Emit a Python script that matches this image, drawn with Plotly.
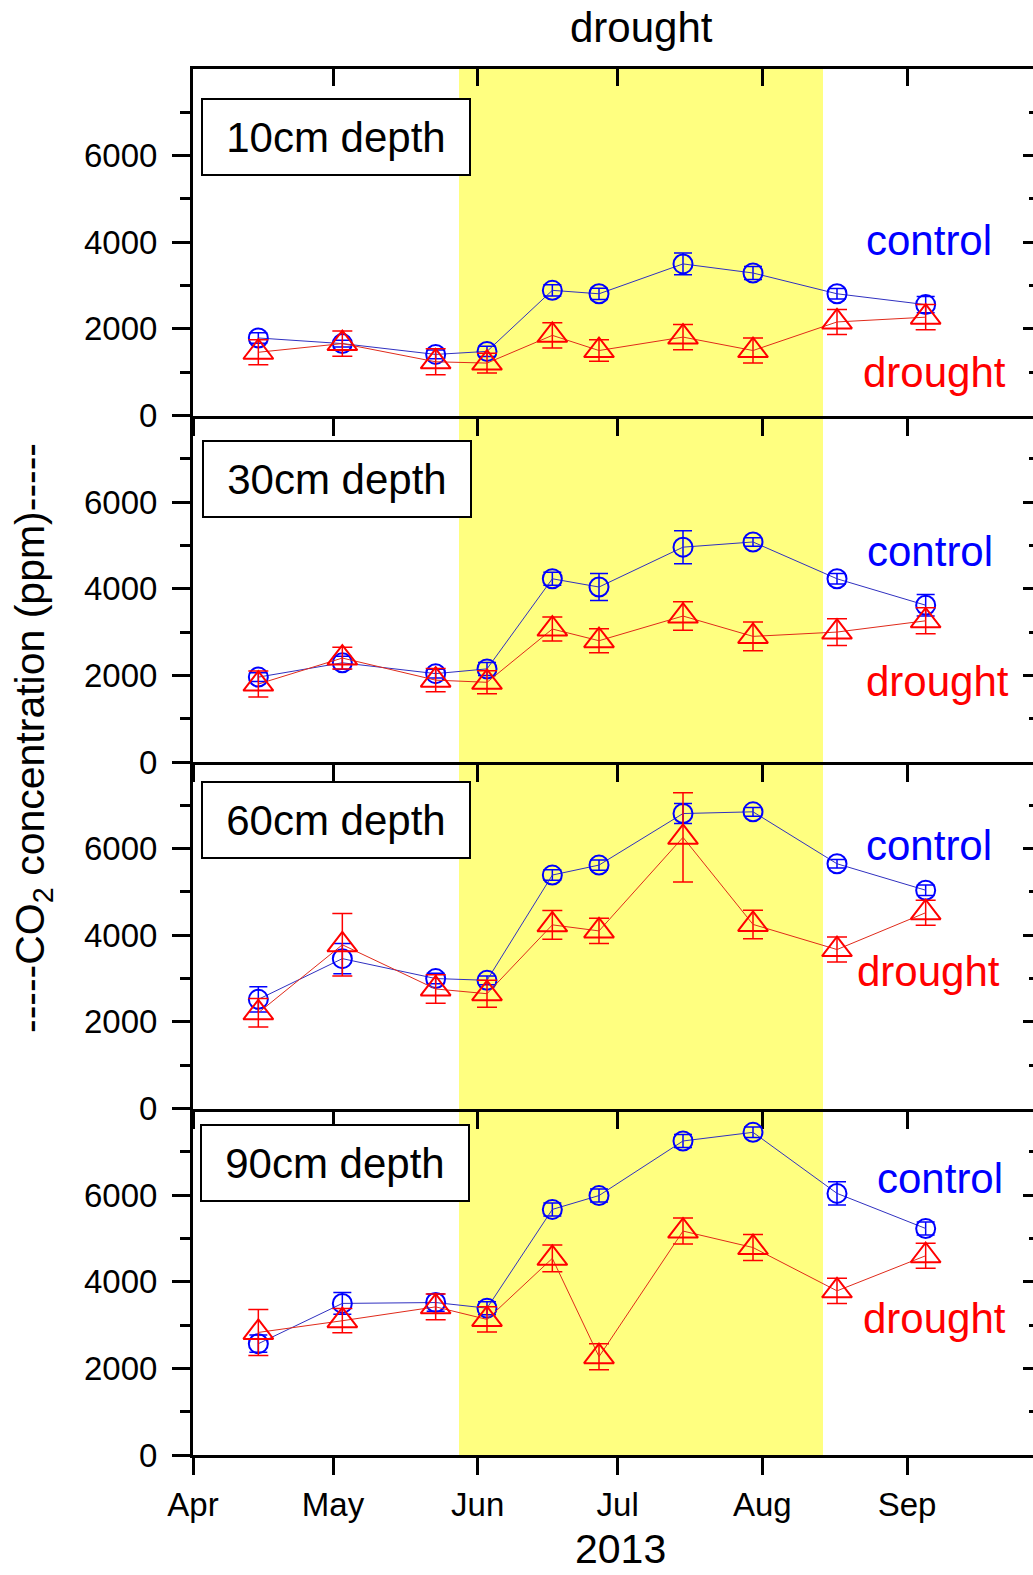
import plotly.graph_objects as go
import pandas as pd

# ---------------- data ----------------
dates = ["2013-04-15", "2013-05-03", "2013-05-23", "2013-06-03", "2013-06-17",
         "2013-06-27", "2013-07-15", "2013-07-30", "2013-08-17", "2013-09-05"]
depth_labels = ["10cm depth", "30cm depth", "60cm depth", "90cm depth"]

control_10 = [1790, 1660, 1410, 1480, 2890, 2810, 3500, 3290, 2810, 2560]
control_10_err = [120, 80, 100, 120, 130, 130, 250, 150, 120, 190]
drought_10 = [1460, 1660, 1240, 1210, 1850, 1500, 1810, 1500, 2160, 2270]
drought_10_err = [290, 290, 300, 230, 290, 250, 290, 290, 290, 290]

control_30 = [1960, 2290, 2040, 2150, 4230, 4040, 4960, 5080, 4230, 3620]
control_30_err = [100, 150, 100, 150, 150, 310, 380, 100, 120, 250]
drought_30 = [1800, 2400, 1890, 1840, 3070, 2800, 3370, 2900, 3000, 3260]
drought_30_err = [300, 250, 270, 265, 275, 275, 330, 330, 310, 300]

control_60 = [2520, 3460, 3000, 2960, 5390, 5620, 6810, 6850, 5650, 5040]
control_60_err = [290, 350, 120, 100, 120, 120, 230, 100, 100, 120]
drought_60 = [2210, 3780, 2760, 2650, 4240, 4100, 6260, 4250, 3670, 4520]
drought_60_err = [330, 720, 330, 310, 330, 290, 1030, 330, 290, 290]

control_90 = [2570, 3500, 3520, 3390, 5670, 5990, 7250, 7450, 6040, 5230]
control_90_err = [200, 250, 200, 150, 150, 150, 150, 120, 270, 150]
drought_90 = [2830, 3100, 3420, 3130, 4540, 2270, 5170, 4790, 3790, 4600]
drought_90_err = [530, 280, 300, 290, 310, 300, 300, 300, 290, 290]

drought_period = ["2013-05-28", "2013-08-14"]
x_range = ["2013-04-01", "2013-09-28"]
y_ticks = [0, 2000, 4000, 6000]
y_minor_ticks = [1000, 3000, 5000, 7000]
y_range = [0, 8000]

panels = [
    (control_10, control_10_err, drought_10, drought_10_err),
    (control_30, control_30_err, drought_30, drought_30_err),
    (control_60, control_60_err, drought_60, drought_60_err),
    (control_90, control_90_err, drought_90, drought_90_err),
]

# label placement (fraction of each panel)
control_pos = [(0.876, 0.505), (0.877, 0.608), (0.876, 0.760), (0.889, 0.797)]
drought_pos = [(0.883, 0.124), (0.886, 0.233), (0.876, 0.395), (0.883, 0.394)]
box_pos = [(0.170, 0.804), (0.172, 0.818), (0.170, 0.832), (0.169, 0.842)]

FONT = "Arial, 'Liberation Sans', sans-serif"
BLUE = "#0000FF"
RED = "#FF0000"

fig = go.Figure()

n = len(panels)
for i, (c, ce, d, de) in enumerate(panels):
    k = i + 1
    xa = "x" if k == 1 else f"x{k}"
    ya = "y" if k == 1 else f"y{k}"
    fig.add_trace(go.Scatter(
        x=dates, y=c, xaxis=xa, yaxis=ya, mode="lines+markers",
        line=dict(color="#3030C0", width=1),
        marker=dict(symbol="circle-open", size=19, color=BLUE,
                    line=dict(width=2, color=BLUE)),
        error_y=dict(type="data", array=ce, color=BLUE, thickness=1.5, width=9),
        showlegend=False, name="control"))
    fig.add_trace(go.Scatter(
        x=dates, y=d, xaxis=xa, yaxis=ya, mode="lines+markers",
        line=dict(color="#E02A1A", width=1),
        marker=dict(symbol="triangle-up-open", size=26, color=RED,
                    line=dict(width=2, color=RED)),
        error_y=dict(type="data", array=de, color=RED, thickness=1.5, width=10),
        showlegend=False, name="drought"))

# empty helper traces for overlay axes (top ticks of panel 1, right ticks)
fig.add_trace(go.Scatter(x=[], y=[], xaxis="x5", yaxis="y", showlegend=False))
for k in range(1, n + 1):
    xa = "x" if k == 1 else f"x{k}"
    fig.add_trace(go.Scatter(x=[], y=[], xaxis=xa, yaxis=f"y{k + 4}", showlegend=False))

layout = dict(
    width=1033, height=1575,
    margin=dict(l=193, r=0, t=69, b=120, pad=0),
    paper_bgcolor="white", plot_bgcolor="rgba(0,0,0,0)",
    font=dict(family=FONT, color="black"),
    showlegend=False,
)

h = 1.0 / n
for i in range(n):
    k = i + 1
    top = 1 - i * h
    bottom = top - h
    xname = "xaxis" if k == 1 else f"xaxis{k}"
    yname = "yaxis" if k == 1 else f"yaxis{k}"
    ya = "y" if k == 1 else f"y{k}"
    xa = "x" if k == 1 else f"x{k}"
    layout[xname] = dict(
        type="date", range=x_range, domain=[0, 1], anchor=ya,
        matches=None if k == 1 else "x",
        showline=True, linewidth=3, linecolor="black", mirror=(k == 1),
        ticks="outside", ticklen=17, tickwidth=3, tickcolor="black",
        tick0="2013-04-01", dtick="M1", tickformat="%b",
        showticklabels=(k == n), tickfont=dict(size=33, family=FONT),
        ticklabelstandoff=1,
        showgrid=False, zeroline=False,
    )
    layout[yname] = dict(
        range=y_range, domain=[max(bottom, 0), min(top, 1)], anchor=xa,
        showline=True, linewidth=3, linecolor="black", mirror=False,
        ticks="outside", ticklen=18, tickwidth=3, tickcolor="black",
        tickmode="array", tickvals=y_ticks, tickfont=dict(size=33, family=FONT),
        ticklabelstandoff=8,
        minor=dict(ticks="outside", ticklen=10, tickwidth=3, tickcolor="black",
                   tickmode="array", tickvals=y_minor_ticks),
        showgrid=False, zeroline=False,
    )
    # right-side inner ticks (frame edge lies beyond the picture)
    layout[f"yaxis{k + 4}"] = dict(
        range=y_range, overlaying=ya, side="right", anchor=xa,
        showline=False, ticks="inside", ticklen=10, tickwidth=3, tickcolor="black",
        tickmode="array", tickvals=y_ticks, showticklabels=False,
        minor=dict(ticks="inside", ticklen=4, tickwidth=3, tickcolor="black",
                   tickmode="array", tickvals=y_minor_ticks),
        showgrid=False, zeroline=False,
    )

# top ticks of the uppermost panel, pointing inward
layout["xaxis5"] = dict(
    type="date", range=x_range, overlaying="x", side="top", anchor="y",
    showline=False, ticks="inside", ticklen=17, tickwidth=3, tickcolor="black",
    tick0="2013-04-01", dtick="M1", showticklabels=False,
    showgrid=False, zeroline=False,
)

fig.update_layout(**layout)

# drought period band
fig.add_shape(type="rect", xref="x", yref="paper",
              x0=drought_period[0], x1=drought_period[1], y0=0, y1=1,
              fillcolor="#FFFF80", line=dict(width=0), layer="below")

band_mid = (pd.Timestamp(drought_period[0]) +
            (pd.Timestamp(drought_period[1]) - pd.Timestamp(drought_period[0])) / 2)

annotations = [
    dict(text="drought", x=band_mid.strftime("%Y-%m-%d"), xref="x",
         y=1.0296, yref="paper", showarrow=False,
         font=dict(size=42, family=FONT, color="black"),
         xanchor="center", yanchor="middle"),
    dict(text="2013", x=0.5095, xref="paper", y=-0.0675, yref="paper",
         showarrow=False, font=dict(size=41, family=FONT, color="black"),
         xanchor="center", yanchor="middle"),
    dict(text="-----CO<sub>2</sub> concentration (ppm)-----",
         x=-0.1905, xref="paper", y=0.5173, yref="paper", textangle=-90,
         showarrow=False, font=dict(size=41, family=FONT, color="black"),
         xanchor="center", yanchor="middle"),
]

for i in range(n):
    k = i + 1
    xd = "x domain" if k == 1 else f"x{k} domain"
    yd = "y domain" if k == 1 else f"y{k} domain"
    annotations.append(dict(
        text=depth_labels[i], x=box_pos[i][0], y=box_pos[i][1], xref=xd, yref=yd,
        showarrow=False, font=dict(size=42, family=FONT, color="black"),
        bgcolor="white", bordercolor="black", borderwidth=2, borderpad=2,
        width=262, height=70, align="center",
        xanchor="center", yanchor="middle"))
    annotations.append(dict(
        text="control", x=control_pos[i][0], y=control_pos[i][1], xref=xd, yref=yd,
        showarrow=False, font=dict(size=42, family=FONT, color=BLUE),
        xanchor="center", yanchor="middle"))
    annotations.append(dict(
        text="drought", x=drought_pos[i][0], y=drought_pos[i][1], xref=xd, yref=yd,
        showarrow=False, font=dict(size=42, family=FONT, color=RED),
        xanchor="center", yanchor="middle"))

fig.update_layout(annotations=annotations)

fig.write_html("out.html")
